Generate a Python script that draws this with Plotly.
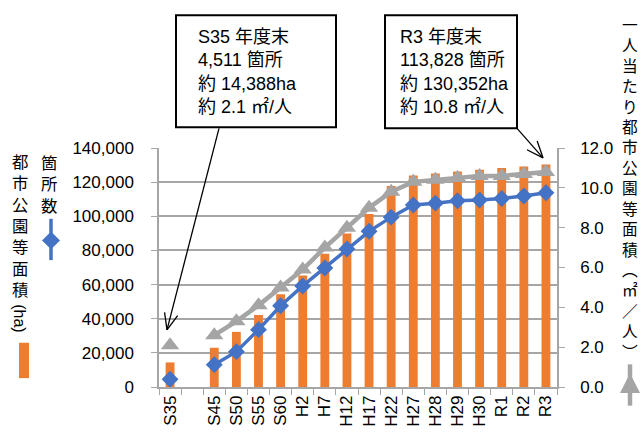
import math
import plotly.graph_objects as go

# ---------------- data ----------------
categories = ["S35", " ", "S45", "S50", "S55", "S60", "H2", "H7", "H12", "H17",
              "H22", "H27", "H28", "H29", "H30", "R1", "R2", "R3"]
area_ha = [14388, None, 23000, 32300, 42200, 54300, 65300, 78000, 89900, 101400,
           117700, 123900, 125000, 126200, 127300, 128300, 129200, 130352]
park_count = [4511, None, 13100, 20700, 33600, 47600, 59200, 69700, 80800, 91200,
              99500, 106600, 107700, 109100, 109500, 110400, 111900, 113828]
area_per_person = [2.1, None, 2.6, 3.3, 4.1, 5.0, 5.9, 7.0, 8.0, 9.0,
                   9.8, 10.3, 10.4, 10.5, 10.6, 10.6, 10.7, 10.8]

left_title = "都市公園等面積"
left_title_unit = "(ha)"
count_title = "箇所数"
right_title = ["一", "人", "当", "た", "り", "都", "市", "公", "園", "等", "面", "積",
               "︵", "㎡", "／", "人", "︶"]
box1_text = "S35 年度末<br>4,511 箇所<br>約 14,388ha<br>約 2.1 ㎡/人"
box2_text = "R3 年度末<br>113,828 箇所<br>約 130,352ha<br>約 10.8 ㎡/人"

ORANGE = "#ED7D31"
BLUE = "#4472C4"
GRAY = "#A5A5A5"
GRID = "#A6A6A6"
FONT = "Liberation Sans, Arial, Noto Sans CJK JP, sans-serif"
CJK = "Noto Sans CJK JP, sans-serif"

W, H = 643, 439
L, R, T, B = 159, 86, 148, 48
PW, PH = W - L - R, H - T - B


def px(x):
    return (x - L) / PW


def py(y):
    return (H - B - y) / PH


fig = go.Figure()
fig.add_trace(go.Bar(x=categories, y=area_ha, marker=dict(color=ORANGE, line=dict(width=0)),
                     width=0.4, name="都市公園等面積(ha)"))
fig.add_trace(go.Scatter(x=categories, y=park_count, mode="lines+markers",
                         line=dict(color=BLUE, width=3.5),
                         marker=dict(symbol="diamond", size=13, color=BLUE),
                         name="箇所数", connectgaps=False))
fig.add_trace(go.Scatter(x=categories, y=area_per_person, mode="lines+markers", yaxis="y2",
                         line=dict(color=GRAY, width=4.5),
                         marker=dict(symbol="triangle-up", size=16, color=GRAY),
                         name="一人当たり都市公園等面積", connectgaps=False))

shapes = []
annotations = []

# callout boxes
for (x0, y0, x1, y1) in [(176, 13, 336, 127), (385, 13, 517, 128)]:
    shapes.append(dict(type="rect", xref="paper", yref="paper",
                       x0=px(x0), x1=px(x1), y0=py(y0), y1=py(y1),
                       line=dict(color="black", width=2), fillcolor="white"))
for txt, x in [(box1_text, 196), (box2_text, 398)]:
    annotations.append(dict(text=txt, xref="paper", yref="paper", x=px(x), y=py(71),
                            xanchor="left", yanchor="middle", align="left", showarrow=False,
                            font=dict(size=18, color="black", family=FONT)))


def arrow(x0, y0, x1, y1, arm=18, ang=22):
    shapes.append(dict(type="line", xref="paper", yref="paper", x0=px(x0), y0=py(y0),
                       x1=px(x1), y1=py(y1), line=dict(color="black", width=1.3)))
    d = math.atan2(y0 - y1, x0 - x1)
    for s in (-1, 1):
        a = d + s * math.radians(ang)
        shapes.append(dict(type="line", xref="paper", yref="paper", x0=px(x1), y0=py(y1),
                           x1=px(x1 + arm * math.cos(a)), y1=py(y1 + arm * math.sin(a)),
                           line=dict(color="black", width=1.3)))


arrow(219, 128, 167, 333)
arrow(517, 128, 543, 158)

# left title column (vertical)
annotations.append(dict(text="<br>".join(left_title), xref="paper", yref="paper",
                        x=px(20), y=py(226), xanchor="center", yanchor="middle",
                        showarrow=False, font=dict(size=16.4, color="black", family=CJK)))
annotations.append(dict(text=left_title_unit, xref="paper", yref="paper", x=px(20), y=py(321),
                        xanchor="center", yanchor="middle", showarrow=False, textangle=90,
                        font=dict(size=16, color="black", family=FONT)))
shapes.append(dict(type="rect", xref="paper", yref="paper", x0=px(19), x1=px(29),
                   y0=py(346), y1=py(382), fillcolor=ORANGE, line=dict(width=0)))

annotations.append(dict(text="<br>".join(count_title), xref="paper", yref="paper",
                        x=px(49), y=py(184), xanchor="center", yanchor="middle",
                        showarrow=False, font=dict(size=16.4, color="black", family=CJK)))
shapes.append(dict(type="line", xref="paper", yref="paper", x0=px(51), x1=px(51),
                   y0=py(220), y1=py(262), line=dict(color=BLUE, width=3.5)))
shapes.append(dict(type="path", xref="paper", yref="paper",
                   path=f"M {px(42)},{py(242)} L {px(51)},{py(233)} L {px(60)},{py(242)} L {px(51)},{py(251)} Z",
                   fillcolor=BLUE, line=dict(width=0)))

# right title column (vertical)
annotations.append(dict(text="<br>".join(right_title), xref="paper", yref="paper",
                        x=px(630), y=py(189), xanchor="center", yanchor="middle",
                        showarrow=False, font=dict(size=15.7, color="black", family=CJK)))
shapes.append(dict(type="line", xref="paper", yref="paper", x0=px(630), x1=px(630),
                   y0=py(368), y1=py(410), line=dict(color=GRAY, width=4.5)))
shapes.append(dict(type="path", xref="paper", yref="paper",
                   path=f"M {px(620)},{py(397)} L {px(630)},{py(377)} L {px(640)},{py(397)} Z",
                   fillcolor=GRAY, line=dict(width=0)))

fig.update_layout(
    width=W, height=H,
    margin=dict(l=L, r=R, t=T, b=B, pad=0),
    paper_bgcolor="white", plot_bgcolor="white",
    showlegend=False,
    bargap=0.6,
    font=dict(family=FONT, size=17, color="black"),
    xaxis=dict(type="category", categoryorder="array", categoryarray=categories,
               tickangle=-90, tickson="boundaries", ticks="outside", ticklen=6,
               tickcolor=GRID, showline=True, linecolor=GRID, linewidth=1.5,
               showgrid=False, tickfont=dict(size=17, family=FONT), range=[-0.5, 17.5]),
    yaxis=dict(range=[0, 140000], dtick=20000, tickformat=",", showgrid=True,
               gridcolor=GRID, gridwidth=1.5, showline=True, linecolor=GRID, linewidth=1.5,
               ticks="outside", ticklen=6, tickcolor=GRID, zeroline=False,
               ticklabelstandoff=14, tickfont=dict(size=17, family=FONT)),
    yaxis2=dict(range=[0, 12], dtick=2, tickformat=".1f", overlaying="y", side="right",
                showgrid=False, showline=True, linecolor=GRID, linewidth=1.5,
                ticks="outside", ticklen=6, tickcolor=GRID, zeroline=False,
                ticklabelstandoff=12, tickfont=dict(size=17, family=FONT)),
    shapes=shapes,
    annotations=annotations,
)

fig.write_html("out.html")
